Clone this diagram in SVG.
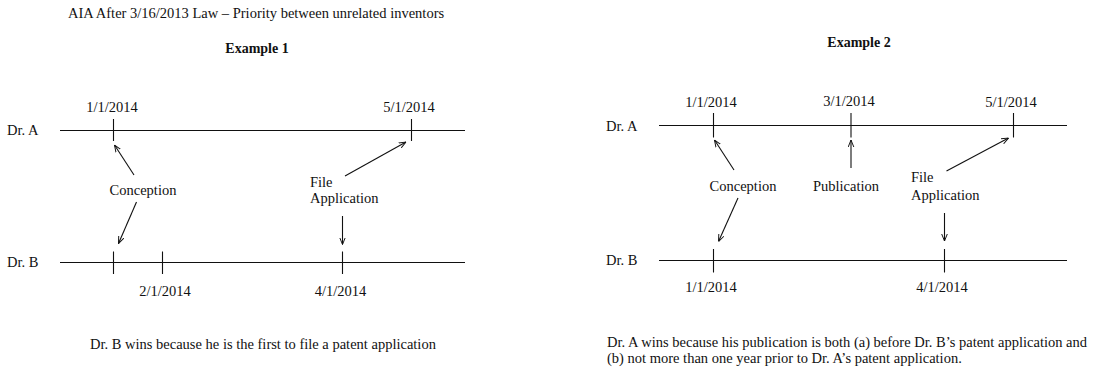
<svg xmlns="http://www.w3.org/2000/svg" width="1095" height="370" viewBox="0 0 1095 370">
<style>
text{font-family:"Liberation Serif","Times New Roman",serif;font-size:14.5px;fill:#111}
.b{font-weight:bold;font-size:14px}
.m{text-anchor:middle}
.ln{stroke:#111;stroke-width:1.1;fill:none}
.ar{stroke:#111;stroke-width:1.1;fill:none;marker-end:url(#ah)}
</style>
<defs>
<marker id="ah" viewBox="0 0 10 10" refX="10" refY="5" markerWidth="7" markerHeight="7" markerUnits="userSpaceOnUse" orient="auto">
<path d="M0,1 L10,5 L0,9" fill="none" stroke="#111" stroke-width="1.4"/>
</marker>
</defs>
<rect width="1095" height="370" fill="#fff"/>
<g id="title">
<text x="68" y="18">AIA After 3/16/2013 Law – Priority between unrelated inventors</text>
</g>
<g id="example1">
<text class="b m" x="257" y="53">Example 1</text>
<g id="ex1-timelineA">
<text x="7" y="135">Dr. A</text>
<path class="ln" d="M60,130.5H465M113.5,119V141M411.5,119V141"/>
<text class="m" x="112" y="112">1/1/2014</text>
<text class="m" x="409" y="112">5/1/2014</text>
</g>
<g id="ex1-timelineB">
<text x="7" y="267">Dr. B</text>
<path class="ln" d="M60,262.5H465M113.5,251.5V274M162.5,251.5V274M342.5,251.5V274"/>
<text class="m" x="165" y="296">2/1/2014</text>
<text class="m" x="340.5" y="296">4/1/2014</text>
</g>
<g id="ex1-conception"><text class="m" x="143" y="195">Conception</text></g>
<g id="ex1-file"><text x="310" y="187">File</text><text x="310" y="203">Application</text></g>
<g id="ex1-result"><text x="90" y="349">Dr. B wins because he is the first to file a patent application</text></g>
</g>
<g id="example2">
<text class="b m" x="859" y="47">Example 2</text>
<g id="ex2-timelineA">
<text x="606" y="131">Dr. A</text>
<path class="ln" d="M659,125.5H1067M713.5,113V137.5M851,113V137.5M1013.5,113V137.5"/>
<text class="m" x="711" y="107">1/1/2014</text>
<text class="m" x="849" y="106">3/1/2014</text>
<text class="m" x="1011" y="107">5/1/2014</text>
</g>
<g id="ex2-timelineB">
<text x="606" y="265">Dr. B</text>
<path class="ln" d="M659,260.5H1067M713.5,249V272.5M944.5,249V272.5"/>
<text class="m" x="711" y="292">1/1/2014</text>
<text class="m" x="942" y="292">4/1/2014</text>
</g>
<g id="ex2-conception"><text class="m" x="743" y="191">Conception</text></g>
<g id="ex2-publication"><text class="m" x="846" y="191">Publication</text></g>
<g id="ex2-file"><text x="911" y="182">File</text><text x="911" y="200">Application</text></g>
<g id="ex2-result">
<text x="607" y="347">Dr. A wins because his publication is both (a) before Dr. B’s patent application and</text>
<text x="607" y="363">(b) not more than one year prior to Dr. A’s patent application.</text>
</g>
</g>
<g id="connectors">
<path class="ar" d="M134,175L114.5,145"/>
<path class="ar" d="M136.5,202L118.5,243.5"/>
<path class="ar" d="M345,176L406,142"/>
<path class="ar" d="M342.5,216V244.5"/>
<path class="ar" d="M734,170L714.5,140"/>
<path class="ar" d="M738,198L718.5,241.5"/>
<path class="ar" d="M851,168V140"/>
<path class="ar" d="M946.5,171L1008.5,138"/>
<path class="ar" d="M944.5,213V241"/>
</g>
</svg>
